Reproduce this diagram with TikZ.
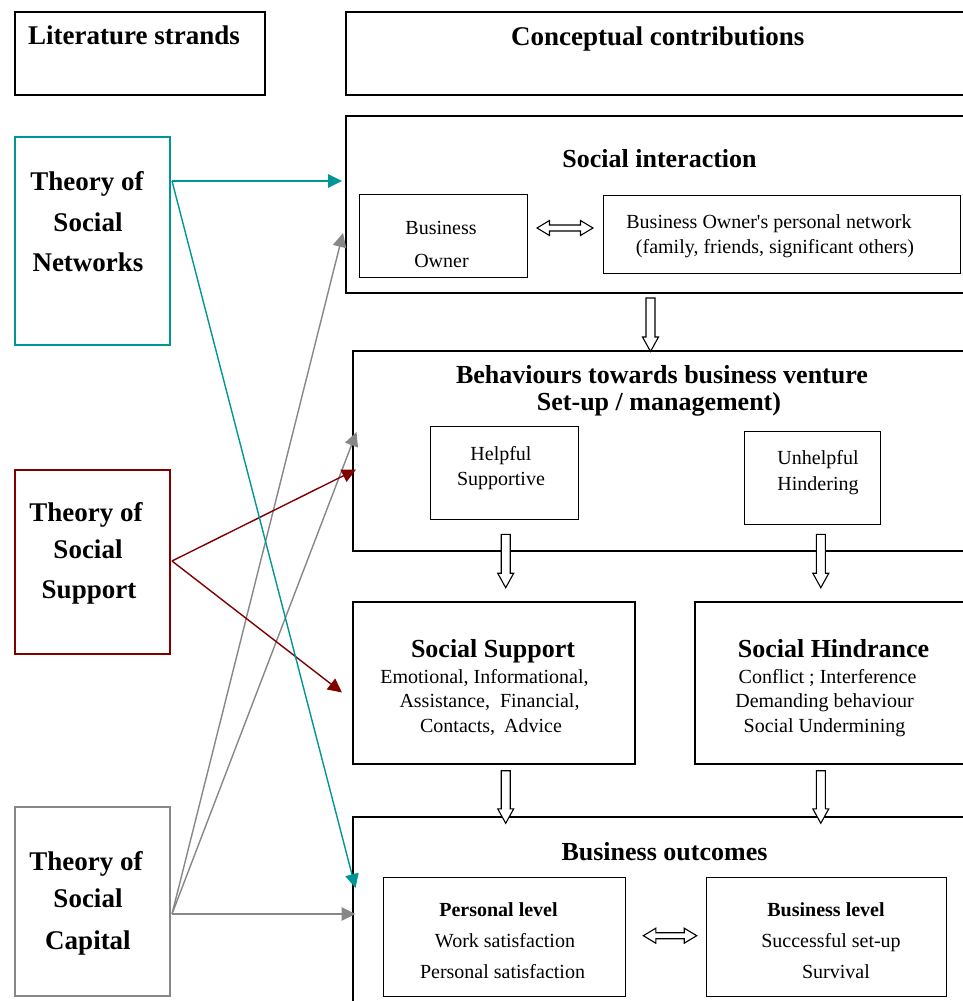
\documentclass[tikz,border=0pt]{standalone}
\usepackage{fontspec}
\setmainfont{Liberation Serif}
\usetikzlibrary{arrows.meta,calc}

\definecolor{netteal}{RGB}{0,150,150}
\definecolor{supred}{RGB}{128,0,0}
\definecolor{capgray}{RGB}{135,135,135}

\tikzset{
  frame/.style={draw=black, line width=1.6pt, inner sep=0pt, anchor=north west},
  inbox/.style={draw=black, line width=1.3pt, inner sep=0pt, anchor=north west},
  theory/.style={line width=1.6pt, inner sep=0pt, anchor=north west},
  headline/.style={font=\fontsize{27}{32}\selectfont\bfseries, anchor=base, inner sep=0pt},
  title/.style={font=\fontsize{26}{30}\selectfont\bfseries, anchor=base, inner sep=0pt},
  label/.style={font=\fontsize{20}{24}\selectfont, anchor=base, inner sep=0pt},
  blabel/.style={font=\fontsize{20}{24}\selectfont\bfseries, anchor=base, inner sep=0pt},
  link/.style={line width=1.4pt, -{Triangle[length=14pt,width=13.5pt]}},
  blockarrow/.style={draw=black, line width=1.1pt, fill=white, line join=miter},
}

% rectangular frame from its top-left to its bottom-right corner
\newcommand{\panel}[6]{\node[#1, minimum width={#5-#3}, minimum height={#6-#4}] (#2) at (#3,#4) {};}

% hollow block arrow pointing down, from #1 to the tip #2
\newcommand{\downblock}[2]{%
  \path[blockarrow] let \p1=(#1), \p2=(#2) in
    (\x1-4.5pt,\y1) -- (\x1+4.5pt,\y1) -- (\x1+4.5pt,\y2+14.5pt) -- (\x1+8pt,\y2+14.5pt)
    -- (\x1,\y2) -- (\x1-8pt,\y2+14.5pt) -- (\x1-4.5pt,\y2+14.5pt) -- cycle;}

% hollow horizontal two-headed block arrow between #1 and #2
\newcommand{\bothblock}[2]{%
  \path[blockarrow] let \p1=(#1), \p2=(#2) in
    (\x1,\y1) -- (\x1+12.5pt,\y1+7.5pt) -- (\x1+12.5pt,\y1+3pt) -- (\x2-12.5pt,\y1+3pt)
    -- (\x2-12.5pt,\y1+7.5pt) -- (\x2,\y1) -- (\x2-12.5pt,\y1-7.5pt) -- (\x2-12.5pt,\y1-3pt)
    -- (\x1+12.5pt,\y1-3pt) -- (\x1+12.5pt,\y1-7.5pt) -- cycle;}

\begin{document}
\begin{tikzpicture}[x=1pt,y=-1pt]
\fill[white] (0,0) rectangle (962,1001);
\useasboundingbox (0,0) rectangle (962,1001);

% ---- column headers
\panel{frame}{lit}{14}{11}{264}{94}
\panel{frame}{con}{345}{11}{990}{94}
\node[headline, anchor=base west] (littxt) at (28,44) {Literature strands};
\node[headline, anchor=base west] (contxt) at (511,45) {Conceptual contributions};

% ---- literature strands
\panel{theory, draw=netteal}{net}{14}{136}{169}{344}
\node[headline] (net1) at (87,190) {Theory of};
\node[headline] (net2) at (88,231) {Social};
\node[headline] (net3) at (88,271) {Networks};

\panel{theory, draw=supred}{sup}{14}{469}{169}{653}
\node[headline] (sup1) at (86,521) {Theory of};
\node[headline] (sup2) at (88,558) {Social};
\node[headline] (sup3) at (89,598) {Support};

\panel{theory, draw=capgray}{cap}{14}{806}{169}{995}
\node[headline] (cap1) at (86,870) {Theory of};
\node[headline] (cap2) at (88,907) {Social};
\node[headline] (cap3) at (88,949) {Capital};

% ---- social interaction
\panel{frame}{si}{345}{115}{990}{292}
\node[title] (sitxt) at (659.5,167) {Social interaction};
\panel{inbox}{own}{359}{194}{527}{277}
\node[label] (own1) at (441,234) {Business};
\node[label] (own2) at (441.5,267) {Owner};
\panel{inbox}{pnet}{603}{195}{960}{273}
\node[label] (pnet1) at (769,228) {Business Owner\textquotesingle s personal network};
\node[label] (pnet2) at (775,253) {(family, friends, significant others)};

% ---- behaviours
\panel{frame}{beh}{352}{350}{990}{550}
\node[title] (beh1) at (662,383) {Behaviours towards business venture};
\node[title] (beh2) at (659,410) {Set-up / management)};
\panel{inbox}{help}{430}{426}{578}{519}
\node[label] (help1) at (501,460) {Helpful};
\node[label] (help2) at (501,485) {Supportive};
\panel{inbox}{unh}{744}{431}{880}{524}
\node[label] (unh1) at (818,464) {Unhelpful};
\node[label] (unh2) at (818,490) {Hindering};

% ---- support and hindrance
\panel{frame}{ss}{352}{601}{634}{763}
\node[title] (ss0) at (493,657) {Social Support};
\node[label] (ss1) at (484.5,683) {Emotional, Informational,};
\node[label] (ss2) at (489.5,707) {Assistance,\hspace{10pt}Financial,};
\node[label] (ss3) at (491,732) {Contacts,\hspace{9pt}Advice};

\panel{frame}{sh}{694}{601}{990}{763}
\node[title] (sh0) at (833.5,657) {Social Hindrance};
\node[label] (sh1) at (827.5,683) {Conflict ; Interference};
\node[label] (sh2) at (824.5,707) {Demanding behaviour};
\node[label] (sh3) at (824.5,732) {Social Undermining};

% ---- business outcomes
\panel{frame}{bo}{352}{816}{990}{1015}
\node[title] (botxt) at (664.5,860) {Business outcomes};
\panel{inbox}{pl}{383}{877}{625}{996}
\node[blabel] (pl1) at (498.5,916) {Personal level};
\node[label] (pl2) at (505,947) {Work satisfaction};
\node[label] (pl3) at (502.5,978) {Personal satisfaction};
\panel{inbox}{bl}{706}{877}{946}{996}
\node[blabel] (bl1) at (826,916) {Business level};
\node[label] (bl2) at (831,947) {Successful set-up};
\node[label] (bl3) at (836,978) {Survival};

% ---- hollow block arrows between the concepts
\coordinate (d1a) at (650.5,298);   \coordinate (d1b) at (650.5,351.5);
\coordinate (d2a) at (505.7,534.3); \coordinate (d2b) at (505.7,587.7);
\coordinate (d3a) at (820.8,534.3); \coordinate (d3b) at (820.8,587.7);
\coordinate (d4a) at (505.7,770.7); \coordinate (d4b) at (505.7,823.3);
\coordinate (d5a) at (820.8,770.7); \coordinate (d5b) at (820.8,823.3);
\coordinate (h1a) at (537,228);     \coordinate (h1b) at (593,228);
\coordinate (h2a) at (643.3,935.7); \coordinate (h2b) at (696.7,935.7);
\downblock{d1a}{d1b}
\downblock{d2a}{d2b}
\downblock{d3a}{d3b}
\downblock{d4a}{d4b}
\downblock{d5a}{d5b}
\bothblock{h1a}{h1b}
\bothblock{h2a}{h2b}

% ---- links from the literature strands
\coordinate (netout) at (172,181);
\coordinate (supout) at (172,561);
\coordinate (capout) at (172,914);
\coordinate (siin)   at (342,181);
\coordinate (boin)   at (355.5,888);
\coordinate (behin)  at (356,469.5);
\coordinate (ssin)   at (342,692.5);
\coordinate (siin2)  at (343,233);
\coordinate (behin2) at (356.5,432);
\coordinate (boin2)  at (355.5,914);

\draw[link, capgray] (capout) -- (siin2);
\draw[link, capgray] (capout) -- (behin2);
\draw[link, capgray] (capout) -- (boin2);
\draw[link, supred] (supout) -- (behin);
\draw[link, supred] (supout) -- (ssin);
\draw[link, netteal] (netout) -- (siin);
\draw[link, netteal] (netout) -- (boin);
\end{tikzpicture}
\end{document}
